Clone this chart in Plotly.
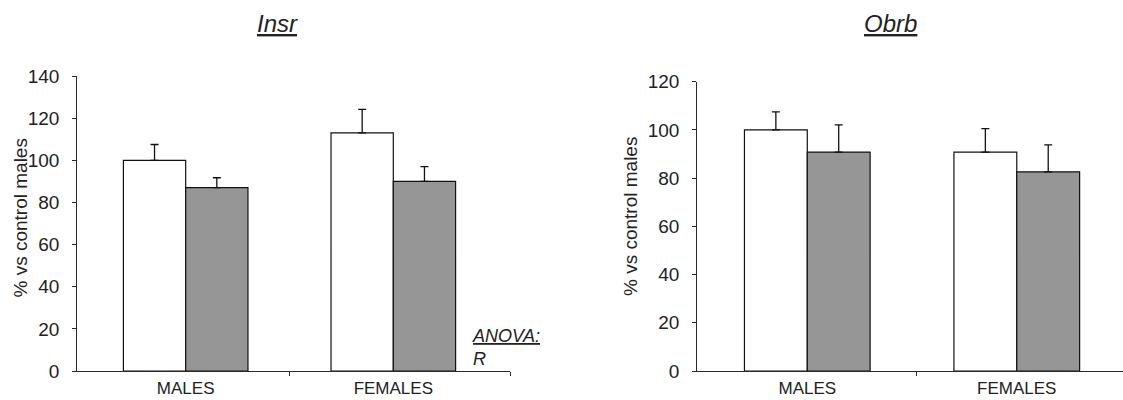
import plotly.graph_objects as go

# ---- data ----
categories = ["MALES", "FEMALES"]

insr_white = [100, 113]
insr_white_err = [7.5, 11.2]
insr_gray = [87, 90]
insr_gray_err = [4.7, 7.0]

obrb_white = [100, 90.8]
obrb_white_err = [7.5, 9.7]
obrb_gray = [90.8, 82.6]
obrb_gray_err = [11.3, 11.2]

insr_ticks = [0, 20, 40, 60, 80, 100, 120, 140]
obrb_ticks = [0, 20, 40, 60, 80, 100, 120]

W, H = 1123, 400
FONT = "Liberation Sans, Arial, sans-serif"
TXT = "#222222"
AX = "#2a2a2a"
GRAY = "#969696"

xpos = list(range(len(categories)))

fig = go.Figure()


def add_pair(white, werr, gray, gerr, xa, ya):
    for vals, errs, col in ((white, werr, "#ffffff"), (gray, gerr, GRAY)):
        fig.add_trace(go.Bar(
            x=xpos, y=vals, xaxis=xa, yaxis=ya,
            marker=dict(color=col, line=dict(color="#111111", width=1.2)),
            error_y=dict(type="data", array=errs, arrayminus=[0] * len(errs),
                         symmetric=False, color="#111111", thickness=1.3, width=4),
            showlegend=False, hoverinfo="skip",
        ))


add_pair(insr_white, insr_white_err, insr_gray, insr_gray_err, "x", "y")
add_pair(obrb_white, obrb_white_err, obrb_gray, obrb_gray_err, "x2", "y2")


def px_x(v):
    return v / W


def px_y(v):
    return (H - v) / H


xcommon = dict(
    tickmode="array", tickvals=xpos, ticktext=categories, ticks="",
    showline=True, linecolor=AX, linewidth=1.3, zeroline=False, showgrid=False,
    tickfont=dict(family=FONT, size=17, color=TXT), ticklabelstandoff=1,
    fixedrange=True, automargin=False,
)
ycommon = dict(
    tickmode="array", ticks="outside", ticklen=4, tickwidth=1.3, tickcolor=AX,
    showline=True, linecolor=AX, linewidth=1.3, zeroline=False, showgrid=False,
    tickfont=dict(family=FONT, size=19, color=TXT), ticklabelstandoff=9,
    fixedrange=True, automargin=False,
)

fig.update_layout(
    template="none",
    width=W, height=H,
    margin=dict(l=0, r=0, t=0, b=0, pad=0, autoexpand=False),
    paper_bgcolor="white", plot_bgcolor="white",
    barmode="group", bargap=0.4, bargroupgap=0,
    xaxis=dict(xcommon, domain=[px_x(77.3), px_x(510)], range=[-0.522, 1.562],
               anchor="y",
               minor=dict(tickmode="array", tickvals=[0.5, 1.562], ticks="outside",
                          ticklen=4, tickwidth=1.3, tickcolor=AX, showgrid=False)),
    yaxis=dict(ycommon, domain=[px_y(371), px_y(76)], range=[0, 140],
               tickvals=insr_ticks, anchor="x"),
    xaxis2=dict(xcommon, domain=[px_x(697.3), 1.0], range=[-0.525, 1.507],
                anchor="y2",
                minor=dict(tickmode="array", tickvals=[0.522], ticks="outside",
                           ticklen=4, tickwidth=1.3, tickcolor=AX, showgrid=False)),
    yaxis2=dict(ycommon, domain=[px_y(371), px_y(81.7)], range=[0, 120],
                tickvals=obrb_ticks, anchor="x2"),
    annotations=[
        dict(text="<i><u>Insr</u></i>", x=px_x(277), y=px_y(23), xref="paper", yref="paper",
             showarrow=False, xanchor="center", yanchor="middle",
             font=dict(family=FONT, size=24, color=TXT)),
        dict(text="<i><u>Obrb</u></i>", x=px_x(890), y=px_y(23), xref="paper", yref="paper",
             showarrow=False, xanchor="center", yanchor="middle",
             font=dict(family=FONT, size=24, color=TXT)),
        dict(text="% vs control males", x=px_x(20), y=px_y(218.5), xref="paper", yref="paper",
             showarrow=False, textangle=-90, xanchor="center", yanchor="middle",
             font=dict(family=FONT, size=19, color=TXT)),
        dict(text="% vs control males", x=px_x(630), y=px_y(217), xref="paper", yref="paper",
             showarrow=False, textangle=-90, xanchor="center", yanchor="middle",
             font=dict(family=FONT, size=19, color=TXT)),
        dict(text="<i><u>ANOVA:</u></i><br><i>R</i>", x=px_x(470), y=px_y(324),
             xref="paper", yref="paper", showarrow=False, xanchor="left", yanchor="top",
             align="left", font=dict(family=FONT, size=18, color=TXT)),
    ],
)

fig.write_html("out.html")
